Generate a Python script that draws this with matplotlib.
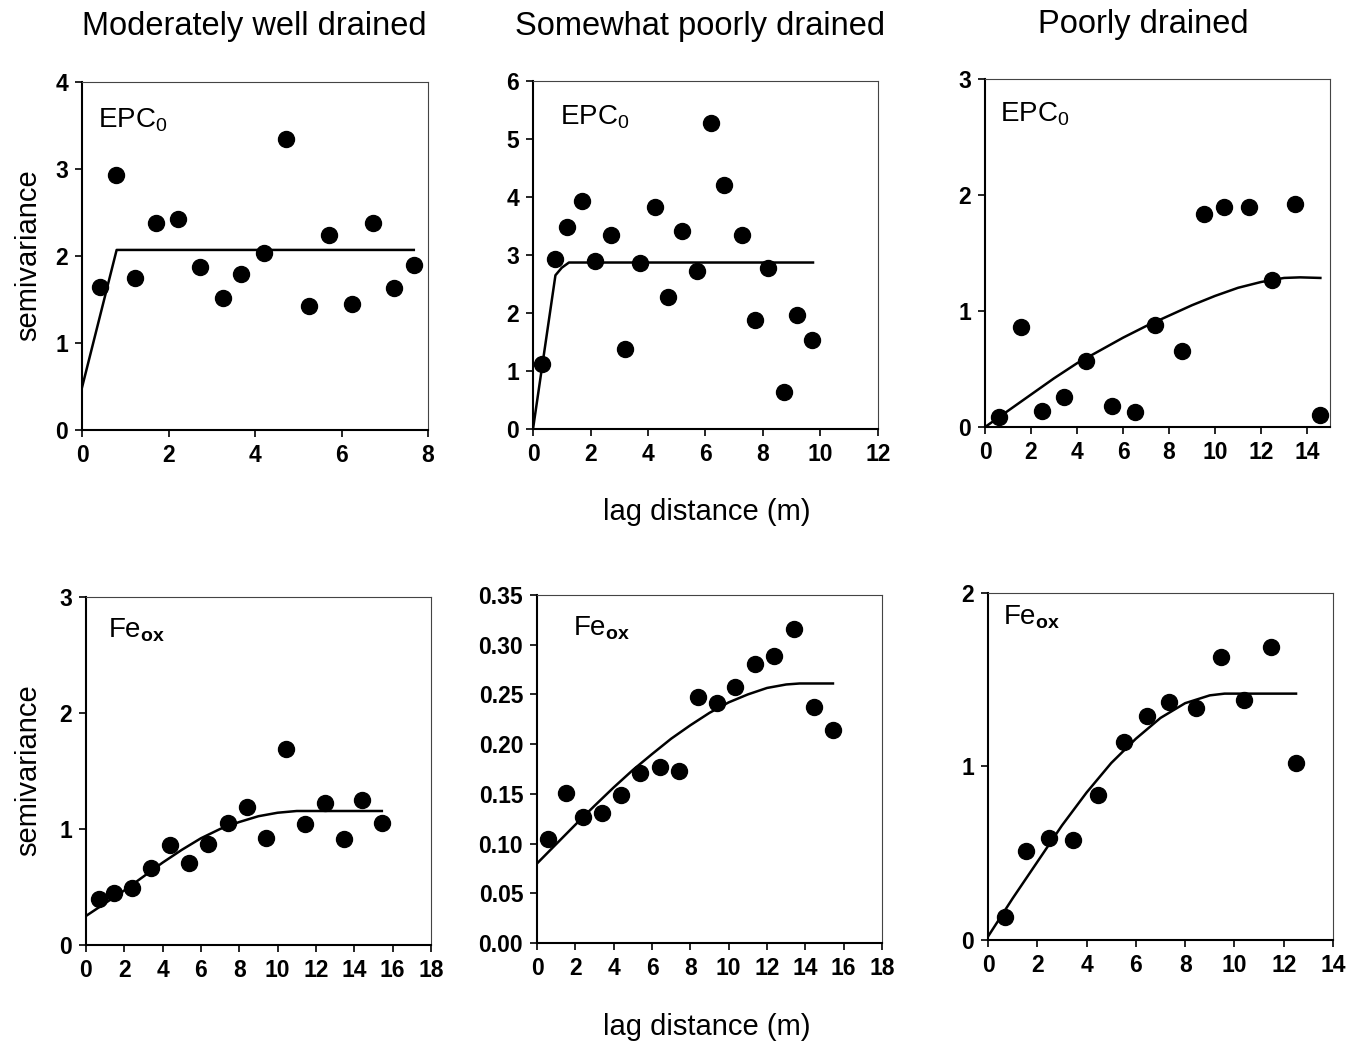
import matplotlib
matplotlib.use("Agg")
import matplotlib.pyplot as plt
import numpy as np

plt.rcParams['font.family'] = ['Liberation Sans', 'DejaVu Sans']
plt.rcParams['mathtext.fontset'] = 'custom'
plt.rcParams['mathtext.rm'] = 'Liberation Sans'
plt.rcParams['mathtext.it'] = 'Liberation Sans'
plt.rcParams['mathtext.bf'] = 'Liberation Sans:bold'

col_titles = ["Moderately well drained", "Somewhat poorly drained", "Poorly drained"]

# EPC0 - moderately well drained
e1_x = [0.42, 0.79, 1.23, 1.70, 2.22, 2.72, 3.25, 3.68, 4.21, 4.72, 5.25, 5.70, 6.24, 6.72, 7.21, 7.67]
e1_y = [1.64, 2.93, 1.75, 2.38, 2.43, 1.87, 1.52, 1.79, 2.04, 3.34, 1.43, 2.24, 1.45, 2.38, 1.63, 1.90]
e1_fx = [0.0, 0.80, 7.67]
e1_fy = [0.49, 2.07, 2.07]

# EPC0 - somewhat poorly drained
e2_x = [0.32, 0.78, 1.18, 1.70, 2.17, 2.70, 3.21, 3.71, 4.26, 4.70, 5.18, 5.72, 6.18, 6.64, 7.26, 7.72, 8.17, 8.72, 9.18, 9.72]
e2_y = [1.12, 2.93, 3.49, 3.93, 2.90, 3.35, 1.38, 2.87, 3.82, 2.27, 3.41, 2.72, 5.27, 4.21, 3.35, 1.88, 2.77, 0.63, 1.96, 1.53]
e2_fx = [0.0, 0.78, 1.0, 1.25, 9.74]
e2_fy = [0.0, 2.65, 2.78, 2.87, 2.87]

# EPC0 - poorly drained
e3_x = [0.62, 1.55, 2.48, 3.44, 4.40, 5.53, 6.53, 7.41, 8.56, 9.50, 10.39, 11.49, 12.49, 13.46, 14.58]
e3_y = [0.09, 0.86, 0.135, 0.256, 0.57, 0.184, 0.127, 0.877, 0.653, 1.835, 1.895, 1.895, 1.27, 1.92, 0.106]
e3_fx = [0, 1, 2, 3, 4, 5, 6, 7, 8, 9, 10, 11, 12, 13, 13.7, 14.58]
e3_fy = [0.0, 0.14, 0.28, 0.42, 0.55, 0.66, 0.77, 0.87, 0.96, 1.05, 1.13, 1.20, 1.25, 1.285, 1.29, 1.285]

# Fe_ox - moderately well drained
f1_x = [0.70, 1.48, 2.42, 3.39, 4.40, 5.40, 6.39, 7.40, 8.39, 9.40, 10.45, 11.42, 12.45, 13.44, 14.42, 15.44]
f1_y = [0.40, 0.45, 0.49, 0.66, 0.86, 0.71, 0.87, 1.05, 1.19, 0.92, 1.69, 1.04, 1.22, 0.91, 1.25, 1.05]
f1_fx = [0, 1, 2, 3, 4, 5, 6, 7, 8, 9, 10, 11, 15.44]
f1_fy = [0.25, 0.36, 0.47, 0.59, 0.71, 0.82, 0.92, 1.00, 1.06, 1.11, 1.14, 1.155, 1.155]

# Fe_ox - somewhat poorly drained
f2_x = [0.57, 1.51, 2.42, 3.41, 4.40, 5.39, 6.43, 7.41, 8.38, 9.41, 10.33, 11.37, 12.38, 13.39, 14.43, 15.44]
f2_y = [0.1045, 0.151, 0.127, 0.131, 0.149, 0.171, 0.177, 0.173, 0.247, 0.241, 0.257, 0.281, 0.289, 0.316, 0.237, 0.214]
f2_fx = [0, 1, 2, 3, 4, 5, 6, 7, 8, 9, 10, 11, 12, 13, 13.7, 15.44]
f2_fy = [0.080, 0.0995, 0.119, 0.138, 0.1565, 0.174, 0.190, 0.2055, 0.219, 0.2315, 0.242, 0.250, 0.2565, 0.260, 0.261, 0.261]

# Fe_ox - poorly drained
f3_x = [0.70, 1.54, 2.47, 3.43, 4.46, 5.51, 6.45, 7.36, 8.46, 9.45, 10.38, 11.48, 12.49]
f3_y = [0.135, 0.515, 0.59, 0.577, 0.835, 1.14, 1.29, 1.37, 1.335, 1.63, 1.385, 1.69, 1.02]
f3_fx = [0, 1, 2, 3, 4, 5, 6, 7, 8, 9, 9.6, 12.5]
f3_fy = [0.02, 0.24, 0.45, 0.66, 0.85, 1.02, 1.16, 1.28, 1.365, 1.41, 1.42, 1.42]

panels = [
    dict(x=e1_x, y=e1_y, fx=e1_fx, fy=e1_fy, xlim=(0, 8), xt=np.arange(0, 9, 2), ylim=(0, 4), yt=np.arange(0, 5, 1), lab=r'EPC$_0$', fmt='%d',
         pos=[0.0609, 0.5873, 0.2569, 0.334], lp=(0.046, 0.89)),
    dict(x=e2_x, y=e2_y, fx=e2_fx, fy=e2_fy, xlim=(0, 12), xt=np.arange(0, 13, 2), ylim=(0, 6), yt=np.arange(0, 7, 1), lab=r'EPC$_0$', fmt='%d',
         pos=[0.3957, 0.5883, 0.2561, 0.334], lp=(0.078, 0.896)),
    dict(x=e3_x, y=e3_y, fx=e3_fx, fy=e3_fy, xlim=(0, 15), xt=np.arange(0, 15, 2), ylim=(0, 3), yt=np.arange(0, 4, 1), lab=r'EPC$_0$', fmt='%d',
         pos=[0.7313, 0.5902, 0.2561, 0.334], lp=(0.043, 0.90)),
    dict(x=f1_x, y=f1_y, fx=f1_fx, fy=f1_fy, xlim=(0, 18), xt=np.arange(0, 19, 2), ylim=(0, 3), yt=np.arange(0, 4, 1), lab=r'Fe$_\mathbf{ox}$', fmt='%d',
         pos=[0.0638, 0.0931, 0.2561, 0.334], lp=(0.064, 0.905)),
    dict(x=f2_x, y=f2_y, fx=f2_fx, fy=f2_fy, xlim=(0, 18), xt=np.arange(0, 19, 2), ylim=(0, 0.35), yt=np.arange(0, 0.351, 0.05), lab=r'Fe$_\mathbf{ox}$', fmt='%.2f',
         pos=[0.3987, 0.0950, 0.2561, 0.334], lp=(0.104, 0.905)),
    dict(x=f3_x, y=f3_y, fx=f3_fx, fy=f3_fy, xlim=(0, 14), xt=np.arange(0, 15, 2), ylim=(0, 2), yt=np.arange(0, 3, 1), lab=r'Fe$_\mathbf{ox}$', fmt='%d',
         pos=[0.7335, 0.0979, 0.2561, 0.333], lp=(0.043, 0.93)),
]

fig = plt.figure(figsize=(13.47, 10.42), dpi=100)

for p in panels:
    ax = fig.add_axes(p['pos'])
    ax.plot(p['fx'], p['fy'], color='black', lw=1.8, zorder=2)
    ax.plot(p['x'], p['y'], 'o', color='black', ms=11.5, zorder=3, clip_on=False)
    ax.set_xlim(*p['xlim'])
    ax.set_ylim(*p['ylim'])
    ax.set_xticks(p['xt'])
    ax.set_yticks(p['yt'])
    ax.yaxis.set_major_formatter(matplotlib.ticker.FormatStrFormatter(p['fmt']))
    ax.tick_params(direction='out', length=5, width=1.2, labelsize=16.5, pad=5)
    for lbl in ax.get_xticklabels() + ax.get_yticklabels():
        lbl.set_fontweight('bold')
    for s in ['left', 'bottom']:
        ax.spines[s].set_linewidth(1.5)
    for s in ['top', 'right']:
        ax.spines[s].set_linewidth(0.8)
        ax.spines[s].set_color('#444444')
    ax.text(p['lp'][0], p['lp'][1], p['lab'], transform=ax.transAxes, fontsize=20,
            ha='left', va='center')

fig.text(254 / 1347, 1 - 27 / 1042, col_titles[0], fontsize=23.5, ha='center', va='center')
fig.text(700 / 1347, 1 - 27 / 1042, col_titles[1], fontsize=23.5, ha='center', va='center')
fig.text(1143 / 1347, 1 - 25 / 1042, col_titles[2], fontsize=23.5, ha='center', va='center')

fig.text(28 / 1347, 1 - 255 / 1042, 'semivariance', fontsize=21, rotation=90, ha='center', va='center')
fig.text(28 / 1347, 1 - 770 / 1042, 'semivariance', fontsize=21, rotation=90, ha='center', va='center')
fig.text(707 / 1347, 1 - 512 / 1042, 'lag distance (m)', fontsize=21, ha='center', va='center')
fig.text(707 / 1347, 1 - 1027 / 1042, 'lag distance (m)', fontsize=21, ha='center', va='center')

fig.savefig('out.png', dpi=100, facecolor='white')
